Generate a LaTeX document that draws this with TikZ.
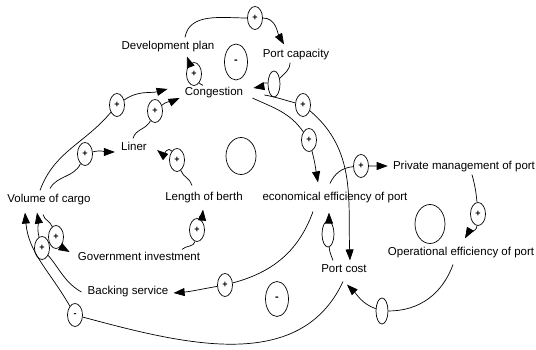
\documentclass[tikz,border=0pt]{standalone}
\usepackage{fontspec}
\setmainfont{Liberation Sans}
\usetikzlibrary{arrows.meta,shapes.geometric}

\tikzset{
	factor/.style={inner sep=1pt, text height=8pt, text depth=2.5pt, font=\fontsize{11.5}{13}\selectfont},
	sign/.style={draw, fill=white, ellipse, minimum width=15pt, minimum height=23pt, inner sep=0pt, font=\fontsize{9}{9}\selectfont\bfseries},
	blank/.style={draw, fill=white, ellipse, minimum width=12pt, minimum height=26pt, inner sep=0pt},
	loopmark/.style={draw, ellipse, inner sep=0pt, font=\fontsize{11}{11}\selectfont\bfseries},
	link/.style={-{Triangle[length=11pt,width=8pt]}},
}

\begin{document}
\begin{tikzpicture}[x=1pt, y=1pt, line width=0.7pt]

	\useasboundingbox (0,0) rectangle (536,350);

	% factors
	\node[factor] (dev) at (168,303) {Development plan};
	\node[factor] (cap) at (296,295) {Port capacity};
	\node[factor] (cong) at (214,257) {Congestion};
	\node[factor] (liner) at (134,202) {Liner};
	\node[factor] (berth) at (204,152) {Length of berth};
	\node[factor] (econ) at (335,152) {economical efficiency of port};
	\node[factor] (priv) at (464,183) {Private management of port};
	\node[factor] (vol) at (49,150) {Volume of cargo};
	\node[factor] (gov) at (139,92) {Government investment};
	\node[factor] (oper) at (461,97) {Operational efficiency of port};
	\node[factor] (cost) at (344,80) {Port cost};
	\node[factor] (back) at (128,58) {Backing service};

	% polarity of each link
	\node[sign] (sDP) at (255,332) {+};
	\node[blank] (sPC) at (274,266) {};
	\node[sign] (sCD) at (194,276) {+};
	\node[sign] (sVC) at (117,245) {+};
	\node[sign] (sLC) at (155,239) {+};
	\node[sign] (sVL) at (85,196) {+};
	\node[sign] (sBL) at (177,190) {+};
	\node[sign] (sGB) at (197,120) {+};
	\node[sign] (sVG) at (56,113) {+};
	\node[sign] (sBV) at (42,102) {+};
	\node[sign] (sCV) at (75,35) {-};
	\node[sign] (sEB) at (225,65) {+};
	\node[sign] (sCE) at (309,210) {+};
	\node[sign] (sCC) at (303,245) {+};
	\node[blank] (sKE) at (328,116) {};
	\node[sign] (sEP) at (361,184) {+};
	\node[sign] (sPO) at (478,136) {+};
	\node[blank] (sOC) at (382,39) {};

	% loops
	\node[loopmark, minimum width=23pt, minimum height=36pt] (loopA) at (236,288) {-};
	\node[loopmark, minimum width=30pt, minimum height=37pt] (loopB) at (241,194) {};
	\node[loopmark, minimum width=30pt, minimum height=39pt] (loopC) at (430,126) {};
	\node[loopmark, minimum width=23pt, minimum height=35pt] (loopD) at (277,51) {-};

	% links
	\draw[link] ([xshift=17pt,yshift=3pt]dev.north) to[out=80,in=180] (sDP) to[out=0,in=120] ([xshift=-12pt,yshift=4pt]cap.north);
	\draw[link] ([xshift=-6pt,yshift=-1pt]cap.south) to[out=-90,in=45] (sPC) to[out=170,in=10] ([xshift=9pt,yshift=5pt]cong.east);
	\draw[link] ([xshift=-11pt,yshift=1pt]cong.north) to[out=140,in=-60] (sCD) to[out=110,in=-70] ([xshift=19pt,yshift=-3pt]dev.south);

	\draw[link] ([xshift=-9pt,yshift=3pt]vol.north) to[out=70,in=-130] (sVC) to[out=35,in=195] ([xshift=-16pt,yshift=4pt]cong.west);
	\draw[link] ([xshift=-1pt,yshift=3pt]liner.north) to[out=75,in=-115] (sLC) to[out=40,in=205] ([xshift=-4pt,yshift=-5pt]cong.west);
	\draw[link] ([xshift=1pt,yshift=5pt]vol.north) to[out=60,in=-115] (sVL) to[out=15,in=180] ([xshift=-5pt,yshift=-4pt]liner.west);
	\draw[link] ([xshift=-12pt,yshift=6pt]berth.north) to[out=105,in=-70] (sBL) to[out=120,in=-40] ([xshift=9pt,yshift=-2pt]liner.east);
	\draw[link] ([xshift=43pt,yshift=2pt]gov.north) to[out=45,in=-100] (sGB) to[out=80,in=-95] ([xshift=-1pt,yshift=-5pt]berth.south);
	\draw[link] ([xshift=-6pt,yshift=-8pt]vol.south) to[out=-75,in=110] (sVG) to[out=-50,in=150] ([xshift=-7pt,yshift=6pt]gov.west);
	\draw[link] ([xshift=-5pt]back.west) to[out=150,in=-50] (sBV) to[out=105,in=-80] ([xshift=-12pt,yshift=-6pt]vol.south);
	\draw[link] ([xshift=-1pt,yshift=-5pt]cost.south) to[out=-115,in=-15] (sCV) to[out=120,in=-85] ([xshift=-24pt,yshift=-6pt]vol.south);

	\draw[link] ([xshift=-22pt,yshift=-7pt]econ.south) to[out=-110,in=15] (sEB) to[out=190,in=5] ([xshift=4pt,yshift=-1pt]back.east);
	\draw[link] ([xshift=8pt,yshift=-5pt]cong.east) to[out=-25,in=125] (sCE) to[out=-75,in=100] ([xshift=-17pt,yshift=9pt]econ.north);
	\draw[link] ([xshift=20pt,yshift=-2pt]cong.east) to[out=-10,in=165] (sCC) to[out=-40,in=92] ([xshift=6pt,yshift=3pt]cost.north);
	\draw[link] ([xshift=-11pt,yshift=3pt]cost.north) to[out=110,in=-85] (sKE) to[out=90,in=-90] ([xshift=-6pt,yshift=-8pt]econ.south);
	\draw[link] ([xshift=-5pt,yshift=8pt]econ.north) to[out=65,in=185] (sEP) to[out=0,in=180] ([xshift=-4pt,yshift=1pt]priv.west);
	\draw[link] ([xshift=8pt,yshift=-1pt]priv.south) to[out=-75,in=95] (sPO) to[out=-95,in=60] ([xshift=4pt,yshift=8pt]oper.north);
	\draw[link] ([xshift=-8pt,yshift=-5pt]oper.south) to[out=-110,in=0] (sOC) to[out=160,in=-45] ([xshift=3pt,yshift=-8pt]cost.south);

\end{tikzpicture}
\end{document}
